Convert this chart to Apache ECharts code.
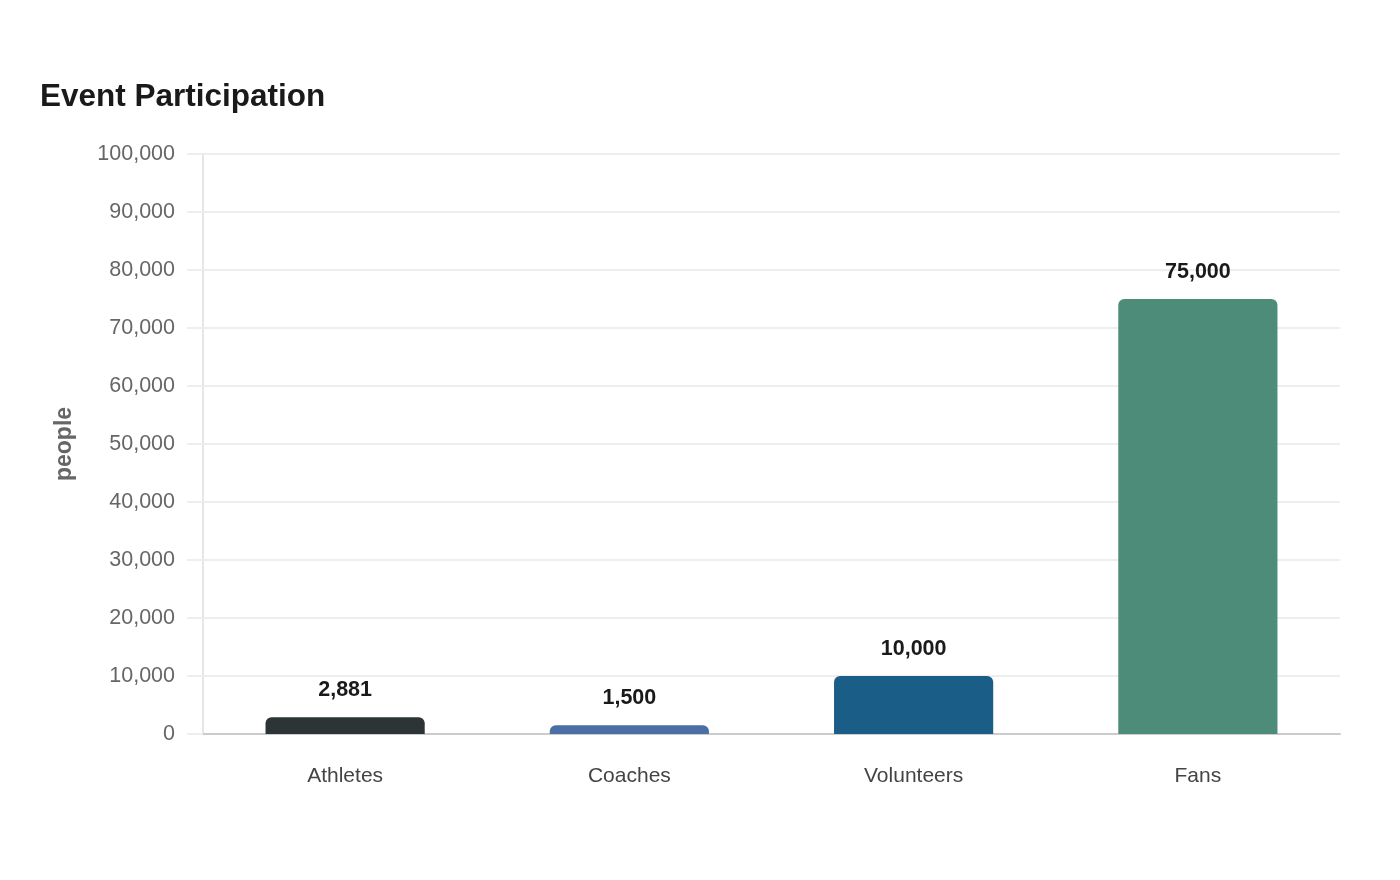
<!DOCTYPE html>
<html>
<head>
<meta charset="utf-8">
<title>Event Participation</title>
<script src="https://cdn.jsdelivr.net/npm/echarts@6/dist/echarts.min.js"></script>
<style>
  html, body { margin: 0; padding: 0; background: #fff; }
  #chart { width: 1400px; height: 880px; }
</style>
</head>
<body>
<div id="chart"></div>
<script>
// categories and values
var categories = ['Athletes', 'Coaches', 'Volunteers', 'Fans'];
var values = [2881, 1500, 10000, 75000];
var barColors = ['#2d3436', '#4a6fa5', '#1a5e87', '#4e8c7a'];

var chart = echarts.init(document.getElementById('chart'));

chart.setOption({
  backgroundColor: '#fff',
  textStyle: { fontFamily: 'Liberation Sans, Arial, sans-serif' },
  title: {
    text: 'Event Participation',
    left: 35,
    top: 76,
    textStyle: { fontSize: 31.5, fontWeight: 'bold', color: '#1a1a1a' }
  },
  grid: {
    left: 203,
    right: 60,
    top: 154,
    bottom: 146
  },
  xAxis: {
    type: 'category',
    data: categories,
    axisLine: { lineStyle: { color: '#cccccc', width: 2 } },
    axisTick: { show: false },
    axisLabel: { fontSize: 21, color: '#444', margin: 32 }
  },
  yAxis: {
    type: 'value',
    min: 0,
    max: 100000,
    interval: 10000,
    name: 'people',
    nameLocation: 'middle',
    nameGap: 127,
    nameTextStyle: { fontSize: 23, fontWeight: 'bold', color: '#666' },
    axisLine: { show: true, lineStyle: { color: '#e6e6e6', width: 2 } },
    axisTick: { show: true, length: 16, lineStyle: { color: '#eeeeee', width: 2 } },
    splitLine: { lineStyle: { color: '#eeeeee', width: 2 } },
    axisLabel: {
      fontSize: 21.5,
      color: '#666',
      margin: 28,
      padding: [4, 0, 0, 0],
      formatter: function (v) { return v.toLocaleString('en-US'); }
    }
  },
  series: [{
    type: 'bar',
    barWidth: '56%',
    data: values.map(function (v, i) {
      return { value: v, itemStyle: { color: barColors[i] } };
    }),
    itemStyle: { borderRadius: [6, 6, 0, 0] },
    label: {
      show: true,
      position: 'top',
      distance: 16,
      fontSize: 21.5,
      fontWeight: 'bold',
      color: '#1a1a1a',
      formatter: function (p) { return p.value.toLocaleString('en-US'); }
    }
  }]
});
</script>
</body>
</html>
